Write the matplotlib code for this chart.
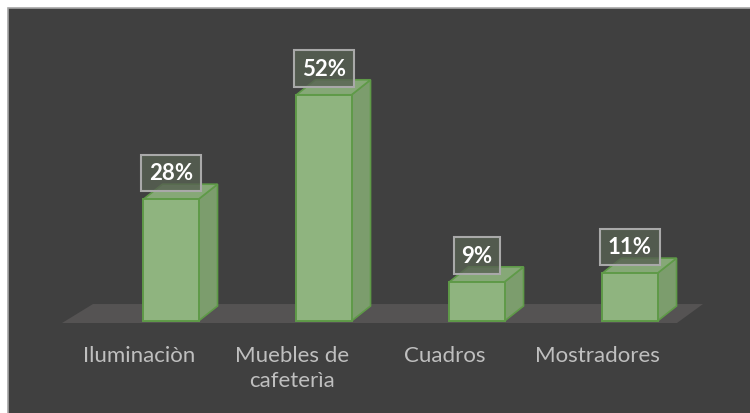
import matplotlib.pyplot as plt
from matplotlib.patches import Polygon, Rectangle

# datos
categorias = ['Iluminaciòn', 'Muebles de\ncafeterìa', 'Cuadros', 'Mostradores']
valores = [28, 52, 9, 11]

plt.rcParams['font.family'] = ['Lato', 'DejaVu Sans']

fig = plt.figure(figsize=(7.5, 4.14), dpi=100, facecolor='white')
# panel oscuro con borde gris
fig.patches.append(Rectangle((8 / 750, -0.1), 1.2, 1 - 9 / 414 + 0.1,
                             transform=fig.transFigure, facecolor='#404040',
                             edgecolor='#a6a6a6', linewidth=1.2, zorder=-1))

ax = fig.add_axes([0, 0, 1, 1])
ax.set_zorder(1)
ax.set_facecolor('none')
ax.axis('off')
ax.set_xlim(-171 / 153, (750 - 171) / 153)
ax.set_ylim(-(414 - 322) / 4.35, 322 / 4.35)

w = 0.36     # ancho de la cara frontal
dx = 0.124   # profundidad en x
dy = 3.45    # profundidad en y

# piso
piso = Polygon([(-0.712, -0.46), (3.307, -0.46), (3.477, 3.9), (-0.51, 3.9)],
               closed=True, facecolor='#555353', edgecolor='none', zorder=1)
ax.add_patch(piso)

borde = '#5f9a48'
for i, v in enumerate(valores):
    l, r = i - w / 2, i + w / 2
    lado = Polygon([(r, 0), (r + dx, dy), (r + dx, v + dy), (r, v)], closed=True,
                   facecolor='#7c9d6d', edgecolor=borde, linewidth=1.2, zorder=2)
    tapa = Polygon([(l, v), (l + dx, v + dy), (r + dx, v + dy), (r, v)], closed=True,
                   facecolor='#86a877', edgecolor=borde, linewidth=1.2, zorder=2)
    frente = Polygon([(l, 0), (r, 0), (r, v), (l, v)], closed=True,
                     facecolor='#8fb47f', edgecolor=borde, linewidth=1.4, zorder=3)
    ax.add_patch(lado)
    ax.add_patch(tapa)
    ax.add_patch(frente)
    ax.text(i, v + dy + 2.6, f'{v}%', ha='center', va='center', color='white',
            fontsize=16, fontweight='bold', zorder=5,
            bbox=dict(boxstyle='square,pad=0.35', facecolor=(0.34, 0.38, 0.32, 0.8),
                      edgecolor='#a9a9a9', linewidth=1.5))

for i, c in enumerate(categorias):
    ax.text(i - 0.21, -5.6, c, ha='center', va='top', color='#bfbfbf',
            fontsize=16, multialignment='center', linespacing=1.3, zorder=5)

fig.savefig('out.png', dpi=100, facecolor='white')
